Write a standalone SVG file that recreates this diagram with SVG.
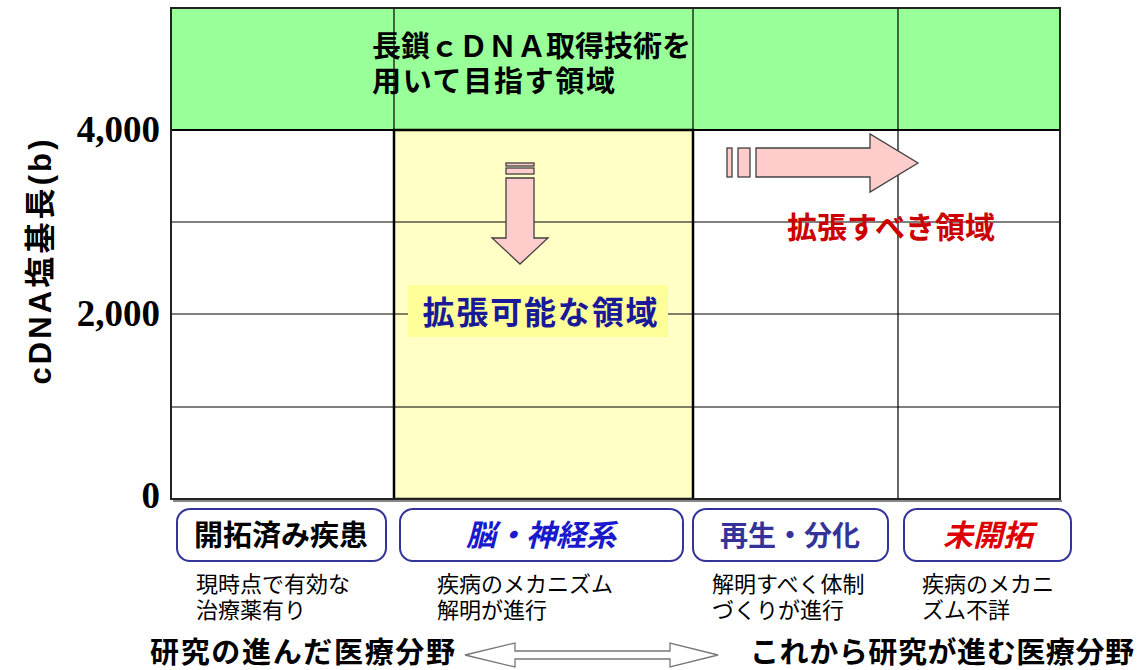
<svg xmlns="http://www.w3.org/2000/svg" width="1141" height="670" viewBox="0 0 1141 670">
<style>
.jp{font-family:"Liberation Sans","Noto Sans CJK JP",sans-serif}
.b{font-weight:bold}
.num{font-family:"Liberation Serif",serif;font-weight:bold;font-size:37px;fill:#000}
.grid{stroke:#000;stroke-width:1.2;fill:none}
.pill{fill:#fff;stroke:#333399;stroke-width:2}
.desc{font-size:22px;fill:#000}
.arr{fill:#FFCCCC;stroke:#404040;stroke-width:1.3}
</style>
<rect width="1141" height="670" fill="#fff"/>
<g id="chart">
<rect x="171" y="8" width="889" height="122" fill="#99FF99"/>
<rect x="171" y="130" width="889" height="369" fill="#fff"/>
<rect x="394" y="130" width="299" height="369" fill="#FFFFC6"/>
<line class="grid" x1="171" y1="222" x2="1060" y2="222"/>
<line class="grid" x1="171" y1="314" x2="1060" y2="314"/>
<line class="grid" x1="171" y1="407" x2="1060" y2="407"/>
<line class="grid" x1="394" y1="8" x2="394" y2="499"/>
<line class="grid" x1="693" y1="8" x2="693" y2="499"/>
<line class="grid" x1="898" y1="8" x2="898" y2="499"/>
<line x1="171" y1="130" x2="1060" y2="130" stroke="#000" stroke-width="2"/>
<rect x="394" y="130" width="299" height="369" fill="none" stroke="#000" stroke-width="2.5"/>
<rect x="171" y="8" width="889" height="491" fill="none" stroke="#222" stroke-width="2"/>
<line x1="173" y1="501" x2="1062" y2="501" stroke="#888" stroke-width="2"/>
</g>
<g id="title">
<text class="jp b" font-size="29" x="372" y="57" fill="#000">長鎖ｃＤＮＡ取得技術を</text>
<text class="jp b" font-size="29" x="372" y="92" textLength="243" lengthAdjust="spacing" fill="#000">用いて目指す領域</text>
</g>
<g id="yaxis">
<text class="num" x="160" y="142" text-anchor="end">4,000</text>
<text class="num" x="160" y="326" text-anchor="end">2,000</text>
<text class="num" x="160" y="508" text-anchor="end">0</text>
<text class="jp b" font-size="31" fill="#000" text-anchor="middle" textLength="245" lengthAdjust="spacing" transform="translate(51,262) rotate(-90)">cDNA塩基長(b)</text>
</g>
<g id="down-arrow">
<rect class="arr" x="506" y="163" width="28" height="3"/>
<rect class="arr" x="506" y="168" width="28" height="6"/>
<polygon class="arr" points="506,178 534,178 534,238 548,238 520,264 492,238 506,238"/>
</g>
<g id="label-possible">
<rect x="408" y="285" width="260" height="52" fill="#FFFF99"/>
<text class="jp b" font-size="32" x="540" y="324" text-anchor="middle" textLength="235" lengthAdjust="spacing" fill="#1A1A99">拡張可能な領域</text>
</g>
<g id="right-arrow">
<rect class="arr" x="727" y="148" width="5" height="29"/>
<rect class="arr" x="738" y="148" width="12" height="29"/>
<polygon class="arr" points="756,148 870,148 870,134 918,163 870,192 870,177 756,177"/>
</g>
<g id="label-should">
<text class="jp b" font-size="30" x="891" y="238" text-anchor="middle" fill="#CC0000">拡張すべき領域</text>
</g>
<g id="cat1">
<rect class="pill" x="177" y="509" width="209" height="52" rx="13"/>
<text class="jp b" font-size="29" x="281" y="546" text-anchor="middle" fill="#000">開拓済み疾患</text>
<text class="jp desc" x="196" y="592">現時点で有効な</text>
<text class="jp desc" x="196" y="618">治療薬有り</text>
</g>
<g id="cat2">
<rect class="pill" x="400" y="509" width="283" height="52" rx="13"/>
<text class="jp b" font-size="30" x="541" y="546" text-anchor="middle" font-style="italic" fill="#1A1ACC">脳・神経系</text>
<text class="jp desc" x="437" y="592">疾病のメカニズム</text>
<text class="jp desc" x="437" y="618">解明が進行</text>
</g>
<g id="cat3">
<rect class="pill" x="693" y="509" width="195" height="52" rx="13"/>
<text class="jp b" font-size="28" x="790" y="546" text-anchor="middle" fill="#333399">再生・分化</text>
<text class="jp desc" x="712" y="592">解明すべく体制</text>
<text class="jp desc" x="712" y="618">づくりが進行</text>
</g>
<g id="cat4">
<rect class="pill" x="904" y="509" width="167" height="52" rx="13"/>
<text class="jp b" font-size="30" x="988" y="546" text-anchor="middle" font-style="italic" fill="#DD0000">未開拓</text>
<text class="jp desc" x="922" y="592">疾病のメカニ</text>
<text class="jp desc" x="922" y="618">ズム不詳</text>
</g>
<g id="bottom">
<text class="jp b" font-size="29" x="150" y="663" textLength="305" lengthAdjust="spacing" fill="#000">研究の進んだ医療分野</text>
<polygon points="465,655 515,643 515,651 670,651 670,643 718,655 670,667 670,659 515,659 515,667" fill="#fff" stroke="#777" stroke-width="1.3"/>
<text class="jp b" font-size="29" x="750" y="663" textLength="384" lengthAdjust="spacing" fill="#000">これから研究が進む医療分野</text>
</g>
</svg>
